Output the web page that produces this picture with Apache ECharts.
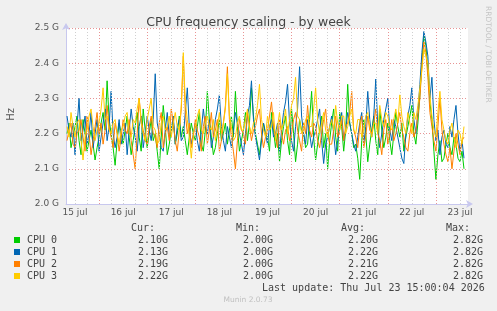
<!DOCTYPE html>
<html>
<head>
<meta charset="utf-8">
<script src="https://cdn.jsdelivr.net/npm/echarts@6/dist/echarts.min.js"></script>
<style>
  html, body { margin: 0; padding: 0; background: #f0f0f0; }
  #chart { width: 497px; height: 311px; }
</style>
</head>
<body>
<div id="chart"></div>
<script>
// hours relative to 16 jul 00:00, one sample every hour
var startHour = -16;
var stepHour = 1;
var dayLabels = ['15 jul', '16 jul', '17 jul', '18 jul', '19 jul', '20 jul', '21 jul', '22 jul', '23 jul'];
var yTicks = ['2.0 G', '2.1 G', '2.2 G', '2.3 G', '2.4 G', '2.5 G'];

var cpu0 = [2.20,2.23,2.16,2.19,2.22,2.25,2.18,2.14,2.24,2.20,2.15,2.18,2.21,2.17,2.125,2.16,2.19,2.23,2.26,2.21,
  2.35,2.24,2.20,2.16,2.11,2.18,2.23,2.20,2.17,2.21,2.25,2.19,2.14,2.18,2.22,2.26,2.19,2.15,2.27,2.21,
  2.16,2.20,2.24,2.18,2.20,2.15,2.10,2.19,2.28,2.22,2.14,2.17,2.21,2.24,2.17,2.20,2.25,2.19,2.22,2.18,
  2.14,2.19,2.23,2.20,2.18,2.22,2.26,2.17,2.15,2.21,2.32,2.24,2.19,2.14,2.16,2.20,2.24,2.18,2.20,2.23,
  2.17,2.21,2.25,2.19,2.32,2.22,2.15,2.18,2.21,2.26,2.18,2.23,2.33,2.25,2.20,2.17,2.14,2.19,2.23,2.20,
  2.19,2.15,2.26,2.21,2.16,2.20,2.12,2.18,2.22,2.25,2.18,2.14,2.27,2.20,2.12,2.17,2.24,2.21,2.20,2.16,
  2.17,2.24,2.32,2.19,2.125,2.17,2.21,2.25,2.16,2.20,2.10,2.18,2.23,2.27,2.19,2.15,2.26,2.22,2.15,2.21,
  2.34,2.23,2.20,2.16,2.17,2.13,2.07,2.18,2.24,2.20,2.12,2.17,2.21,2.25,2.18,2.14,2.27,2.21,2.16,2.19,
  2.23,2.18,2.14,2.20,2.26,2.22,2.19,2.23,2.15,2.19,2.22,2.25,2.28,2.20,2.17,2.23,2.31,2.40,2.48,2.45,
  2.38,2.29,2.24,2.15,2.07,2.14,2.18,2.12,2.13,2.17,2.20,2.16,2.14,2.19,2.17,2.13,2.12,2.15,2.10];
var cpu1 = [2.25,2.21,2.19,2.23,2.14,2.22,2.30,2.18,2.21,2.25,2.17,2.20,2.26,2.16,2.20,2.24,2.15,2.19,2.23,2.27,
  2.18,2.22,2.32,2.20,2.16,2.19,2.24,2.17,2.20,2.23,2.14,2.21,2.27,2.22,2.19,2.15,2.22,2.25,2.16,2.20,
  2.25,2.21,2.18,2.24,2.37,2.23,2.20,2.16,2.15,2.21,2.26,2.19,2.21,2.25,2.17,2.22,2.24,2.18,2.19,2.26,
  2.33,2.22,2.17,2.20,2.23,2.18,2.15,2.21,2.27,2.22,2.20,2.24,2.16,2.19,2.24,2.27,2.31,2.22,2.18,2.15,
  2.22,2.19,2.16,2.21,2.26,2.23,2.20,2.17,2.14,2.20,2.25,2.28,2.35,2.24,2.19,2.16,2.125,2.18,2.23,2.20,
  2.17,2.22,2.24,2.19,2.20,2.23,2.15,2.21,2.26,2.29,2.34,2.23,2.18,2.15,2.22,2.27,2.39,2.25,2.20,2.17,
  2.24,2.20,2.16,2.19,2.21,2.24,2.27,2.18,2.115,2.17,2.19,2.22,2.25,2.20,2.14,2.18,2.22,2.26,2.18,2.21,
  2.26,2.23,2.20,2.17,2.15,2.19,2.23,2.26,2.17,2.22,2.32,2.24,2.19,2.25,2.355,2.22,2.16,2.20,2.24,2.27,
  2.30,2.21,2.18,2.24,2.22,2.19,2.16,2.13,2.115,2.20,2.25,2.28,2.33,2.24,2.20,2.26,2.34,2.43,2.49,2.46,
  2.42,2.30,2.36,2.24,2.18,2.21,2.14,2.19,2.21,2.17,2.16,2.22,2.19,2.24,2.28,2.20,2.15,2.18,2.13];
var cpu2 = [2.18,2.21,2.23,2.17,2.16,2.20,2.21,2.24,2.19,2.15,2.25,2.20,2.14,2.18,2.22,2.26,2.20,2.23,2.17,2.21,
  2.28,2.22,2.19,2.16,2.23,2.20,2.15,2.19,2.24,2.21,2.20,2.24,2.18,2.14,2.10,2.20,2.30,2.24,2.21,2.18,
  2.17,2.22,2.25,2.20,2.19,2.16,2.23,2.26,2.16,2.20,2.22,2.18,2.27,2.23,2.18,2.15,2.21,2.27,2.42,2.26,
  2.20,2.23,2.16,2.19,2.24,2.21,2.19,2.15,2.22,2.25,2.17,2.21,2.26,2.19,2.21,2.24,2.15,2.18,2.23,2.28,
  2.39,2.24,2.19,2.15,2.10,2.18,2.24,2.21,2.20,2.17,2.26,2.22,2.18,2.21,2.22,2.25,2.27,2.20,2.16,2.19,
  2.21,2.25,2.29,2.22,2.19,2.16,2.24,2.20,2.17,2.21,2.22,2.18,2.20,2.24,2.26,2.21,2.18,2.15,2.23,2.20,
  2.28,2.21,2.19,2.23,2.22,2.18,2.16,2.20,2.24,2.27,2.20,2.17,2.17,2.21,2.25,2.19,2.21,2.24,2.18,2.22,
  2.23,2.26,2.32,2.21,2.19,2.16,2.22,2.25,2.16,2.19,2.25,2.21,2.20,2.23,2.27,2.20,2.18,2.14,2.21,2.24,
  2.17,2.20,2.24,2.18,2.20,2.23,2.26,2.21,2.19,2.16,2.15,2.20,2.23,2.19,2.21,2.25,2.30,2.39,2.46,2.43,
  2.36,2.26,2.22,2.18,2.15,2.22,2.30,2.21,2.17,2.14,2.12,2.16,2.10,2.15,2.20,2.17,2.14,2.18,2.19];
var cpu3 = [2.22,2.19,2.26,2.22,2.19,2.23,2.24,2.18,2.125,2.19,2.21,2.25,2.27,2.22,2.18,2.21,2.23,2.27,2.33,2.24,
  2.25,2.21,2.20,2.23,2.24,2.20,2.17,2.21,2.22,2.25,2.26,2.20,2.19,2.24,2.23,2.27,2.30,2.23,2.20,2.18,
  2.24,2.27,2.30,2.22,2.21,2.17,2.18,2.23,2.25,2.21,2.22,2.25,2.19,2.23,2.26,2.22,2.21,2.28,2.43,2.29,
  2.24,2.19,2.13,2.20,2.22,2.25,2.27,2.21,2.20,2.23,2.25,2.22,2.21,2.24,2.18,2.22,2.26,2.20,2.23,2.27,
  2.37,2.25,2.22,2.18,2.19,2.23,2.25,2.21,2.21,2.24,2.27,2.22,2.20,2.23,2.24,2.28,2.34,2.24,2.21,2.19,
  2.25,2.21,2.22,2.26,2.18,2.22,2.26,2.21,2.23,2.27,2.20,2.24,2.28,2.30,2.36,2.25,2.24,2.20,2.21,2.24,
  2.25,2.22,2.22,2.27,2.33,2.24,2.20,2.23,2.26,2.21,2.19,2.22,2.24,2.21,2.28,2.23,2.21,2.25,2.25,2.20,
  2.22,2.25,2.27,2.21,2.20,2.24,2.24,2.19,2.21,2.25,2.26,2.22,2.19,2.23,2.23,2.20,2.28,2.24,2.22,2.26,
  2.25,2.22,2.21,2.24,2.27,2.23,2.31,2.25,2.22,2.20,2.26,2.23,2.20,2.26,2.24,2.28,2.33,2.38,2.44,2.42,
  2.40,2.31,2.25,2.21,2.19,2.26,2.32,2.24,2.21,2.18,2.17,2.21,2.23,2.19,2.16,2.21,2.20,2.17,2.22];

var seriesNames = ['CPU 0', 'CPU 1', 'CPU 2', 'CPU 3'];
var seriesColors = ['#00cc00', '#0066b3', '#ff8000', '#ffcc00'];
var statCur = ['2.10G', '2.13G', '2.19G', '2.22G'];
var statMin = ['2.00G', '2.00G', '2.00G', '2.00G'];
var statAvg = ['2.20G', '2.22G', '2.21G', '2.22G'];
var statMax = ['2.82G', '2.82G', '2.82G', '2.82G'];

function toPairs(arr) {
  var out = [];
  for (var i = 0; i < arr.length; i++) out.push([startHour + i * stepHour, arr[i]]);
  return out;
}

var noonHours = [], sixHours = [], midnightHours = [];
for (var d = 0; d < dayLabels.length; d++) noonHours.push(-12 + d * 24);
for (var h = -12; h <= 180; h += 6) {
  if (h % 24 === 0) midnightHours.push({xAxis: h}); else sixHours.push({xAxis: h});
}

var chart = echarts.init(document.getElementById('chart'));
var font = 'DejaVu Sans';
var mono = 'DejaVu Sans Mono';

var series = [{
  type: 'line', data: [], silent: true, z: 1,
  markLine: {silent: true, symbol: 'none', label: {show: false}, animation: false,
    lineStyle: {color: '#d0d0d0', type: [1, 2], width: 1}, data: sixHours}
}, {
  type: 'line', data: [], silent: true, z: 1,
  markLine: {silent: true, symbol: 'none', label: {show: false}, animation: false,
    lineStyle: {color: '#e89494', type: [1, 2], width: 1}, data: midnightHours}
}];
var all = [cpu0, cpu1, cpu2, cpu3];
for (var s = 0; s < 4; s++) {
  series.push({
    name: seriesNames[s], type: 'line', data: toPairs(all[s]), z: 2 + s,
    showSymbol: false, animation: false,
    lineStyle: {color: seriesColors[s], width: 1}, itemStyle: {color: seriesColors[s]}
  });
}

var graphics = [
  {type: 'text', left: 6, top: 108, rotation: Math.PI / 2,
    style: {text: 'Hz', font: '10px ' + font, fill: '#555'}},
  {type: 'text', x: 492, y: 6, rotation: -Math.PI / 2,
    style: {text: 'RRDTOOL / TOBI OETIKER', font: '7.5px ' + font, fill: '#c4c4c4'}},
  {type: 'text', x: 131, y: 223, style: {text: 'Cur:', font: '10px ' + mono, fill: '#444'}},
  {type: 'text', x: 236, y: 223, style: {text: 'Min:', font: '10px ' + mono, fill: '#444'}},
  {type: 'text', x: 341, y: 223, style: {text: 'Avg:', font: '10px ' + mono, fill: '#444'}},
  {type: 'text', x: 446, y: 223, style: {text: 'Max:', font: '10px ' + mono, fill: '#444'}},
  {type: 'text', x: 262, y: 283, style: {text: 'Last update: Thu Jul 23 15:00:04 2026', font: '10px ' + mono, fill: '#444'}},
  {type: 'text', x: 248, y: 296, style: {text: 'Munin 2.0.73', font: '7.5px ' + font, fill: '#c0c0c0', textAlign: 'center'}}
];
for (var r = 0; r < 4; r++) {
  var yy = 235 + r * 12;
  graphics.push({type: 'rect', shape: {x: 14, y: yy + 2, width: 6, height: 6}, style: {fill: seriesColors[r]}});
  graphics.push({type: 'text', x: 27, y: yy, style: {text: seriesNames[r], font: '10px ' + mono, fill: '#444'}});
  graphics.push({type: 'text', x: 138, y: yy, style: {text: statCur[r], font: '10px ' + mono, fill: '#444'}});
  graphics.push({type: 'text', x: 243, y: yy, style: {text: statMin[r], font: '10px ' + mono, fill: '#444'}});
  graphics.push({type: 'text', x: 348, y: yy, style: {text: statAvg[r], font: '10px ' + mono, fill: '#444'}});
  graphics.push({type: 'text', x: 453, y: yy, style: {text: statMax[r], font: '10px ' + mono, fill: '#444'}});
}

chart.setOption({
  backgroundColor: '#f0f0f0',
  animation: false,
  title: {text: 'CPU frequency scaling - by week', left: 'center', top: 11,
    textStyle: {fontFamily: font, fontSize: 12.5, fontWeight: 'normal', color: '#444'}},
  grid: {left: 66, right: 29, top: 28, bottom: 107, backgroundColor: '#ffffff', show: true, borderWidth: 0},
  xAxis: {
    type: 'value', min: -16.5, max: 184,
    axisLine: {show: true, onZero: false, lineStyle: {color: '#c8c8ee'}, symbol: ['none', 'arrow'], symbolSize: [6, 7], symbolOffset: [0, 5]},
    axisTick: {show: false, customValues: noonHours},
    axisLabel: {customValues: noonHours, margin: 4, fontFamily: font, fontSize: 9, color: '#555',
      formatter: function (v) { return dayLabels[Math.round((v + 12) / 24)]; }},
    splitLine: {show: false}
  },
  yAxis: {
    type: 'value', min: 2.0, max: 2.5, interval: 0.1,
    axisLine: {show: true, onZero: false, lineStyle: {color: '#c8c8ee'}, symbol: ['none', 'arrow'], symbolSize: [6, 7], symbolOffset: [0, 5]},
    axisTick: {show: false},
    axisLabel: {margin: 7, fontFamily: font, fontSize: 9, color: '#555',
      formatter: function (v) { return yTicks[Math.round((v - 2.0) * 10)]; }},
    splitLine: {show: true, lineStyle: {color: '#e89494', type: [1, 2], width: 1}}
  },
  series: series,
  graphic: graphics
});
</script>
</body>
</html>
